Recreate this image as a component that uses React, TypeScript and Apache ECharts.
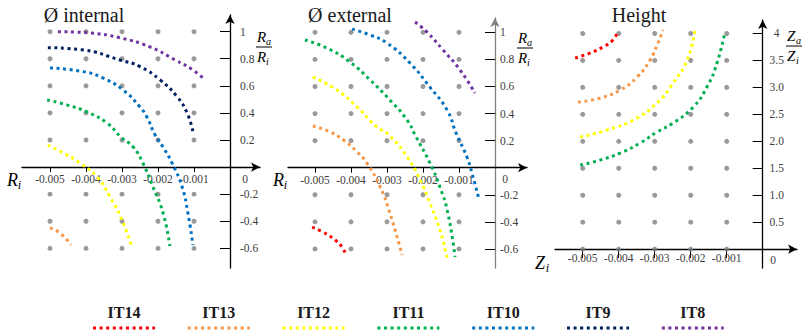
import React, { useEffect, useRef } from 'react';
import * as echarts from 'echarts';

const NAMES = ['IT14', 'IT13', 'IT12', 'IT11', 'IT10', 'IT9', 'IT8'];
const COLORS = ['#ff0000', '#f79646', '#ffff00', '#00b050', '#0070c0', '#002060', '#7030a0'];
const PANEL_TITLES = ['Ø internal', 'Ø external', 'Height'];

const X_TICKS = [-0.005, -0.004, -0.003, -0.002, -0.001];
const R_TICKS = [1, 0.8, 0.6, 0.4, 0.2, -0.2, -0.4, -0.6];
const Z_TICKS = [4, 3.5, 3, 2.5, 2, 1.5, 1, 0.5];
const R_DOT_ROWS = [1, 0.8, 0.6, 0.4, 0.2, -0.2, -0.4, -0.6];
const Z_DOT_ROWS = [4, 3.5, 3, 2.5, 2, 1.5, 1, 0.5, 0];

type P = [number, number][];

// Ø internal
const INT_IT13: P = [[-0.005, -0.45], [-0.00472, -0.487], [-0.00442, -0.575]];
const INT_IT12: P = [[-0.00506, 0.163], [-0.00453, 0.089], [-0.00417, 0.03], [-0.00369, -0.073], [-0.00333, -0.221], [-0.003, -0.391], [-0.00272, -0.597]];
const INT_IT11: P = [[-0.00508, 0.496], [-0.00453, 0.459], [-0.00397, 0.407], [-0.00342, 0.326], [-0.00303, 0.222], [-0.00269, 0.148], [-0.00242, 0.03], [-0.00214, -0.147], [-0.00186, -0.339], [-0.00167, -0.583]];
const INT_IT10: P = [[-0.005, 0.732], [-0.00408, 0.705], [-0.00353, 0.658], [-0.00297, 0.569], [-0.0025, 0.444], [-0.00231, 0.37], [-0.00208, 0.237], [-0.00186, 0.148], [-0.00161, 0.03], [-0.00133, -0.147], [-0.00117, -0.339], [-0.00103, -0.575]];
const INT_IT9: P = [[-0.00506, 0.882], [-0.00408, 0.865], [-0.00306, 0.791], [-0.0025, 0.742], [-0.00194, 0.643], [-0.00147, 0.52], [-0.00119, 0.399], [-0.00103, 0.261]];
const INT_IT8: P = [[-0.00478, 1.0], [-0.00389, 0.99], [-0.00306, 0.955], [-0.00222, 0.887], [-0.00153, 0.792], [-0.00103, 0.717], [-0.00069, 0.643]];

// Ø external
const EXT_IT14: P = [[-0.00508, -0.439], [-0.00478, -0.475], [-0.00444, -0.534], [-0.00425, -0.586], [-0.00414, -0.645]];
const EXT_IT13: P = [[-0.00506, 0.308], [-0.00458, 0.264], [-0.00417, 0.197], [-0.00383, 0.116], [-0.00356, 0.035], [-0.00319, -0.142], [-0.00292, -0.335], [-0.00258, -0.645]];
const EXT_IT12: P = [[-0.00506, 0.67], [-0.00439, 0.574], [-0.00383, 0.448], [-0.00328, 0.301], [-0.00294, 0.241], [-0.00244, 0.079], [-0.00208, -0.091], [-0.00181, -0.261], [-0.00153, -0.46], [-0.00133, -0.667]];
const EXT_IT11: P = [[-0.00528, 0.943], [-0.00467, 0.884], [-0.00403, 0.781], [-0.00347, 0.648], [-0.00292, 0.5], [-0.00244, 0.352], [-0.00222, 0.241], [-0.00181, 0.035], [-0.00153, -0.142], [-0.00131, -0.335], [-0.00111, -0.66]];
const EXT_IT10: P = [[-0.00397, 1.024], [-0.00347, 0.98], [-0.003, 0.921], [-0.00236, 0.773], [-0.00181, 0.596], [-0.00133, 0.426], [-0.00108, 0.256], [-0.00078, 0.079], [-0.00064, -0.039], [-0.00044, -0.239]];
const EXT_IT8: P = [[-0.00222, 1.076], [-0.00189, 1.002], [-0.00144, 0.869], [-0.00097, 0.722], [-0.00056, 0.552]];

// Height
const H_IT14: P = [[-0.00521, 3.544], [-0.0048, 3.636], [-0.00444, 3.748], [-0.00416, 3.878], [-0.00402, 4.045]];
const H_IT13: P = [[-0.00513, 2.727], [-0.00452, 2.801], [-0.00396, 2.95], [-0.00349, 3.191], [-0.00313, 3.506], [-0.00291, 3.822], [-0.00277, 4.063]];
const H_IT12: P = [[-0.00507, 2.078], [-0.00433, 2.208], [-0.0036, 2.393], [-0.00294, 2.709], [-0.00249, 3.08], [-0.0021, 3.506], [-0.00188, 4.063]];
const H_IT11: P = [[-0.00507, 1.558], [-0.00452, 1.651], [-0.00396, 1.781], [-0.00341, 1.967], [-0.00294, 2.171], [-0.00249, 2.338], [-0.00193, 2.635], [-0.00155, 3.006], [-0.00127, 3.451], [-0.00105, 4.026]];

const PANEL_CURVES: Record<string, P>[] = [
  { IT13: INT_IT13, IT12: INT_IT12, IT11: INT_IT11, IT10: INT_IT10, IT9: INT_IT9, IT8: INT_IT8 },
  { IT14: EXT_IT14, IT13: EXT_IT13, IT12: EXT_IT12, IT11: EXT_IT11, IT10: EXT_IT10, IT8: EXT_IT8 },
  { IT14: H_IT14, IT13: H_IT13, IT12: H_IT12, IT11: H_IT11 },
];

const FONT = "'Liberation Serif', 'DejaVu Serif', serif";

function subName(x: number, y: number, main: string, sub: string, size: number): any[] {
  return [
    { type: 'text', x, y, style: { text: main, fontFamily: FONT, fontStyle: 'italic', fontSize: size, fill: '#000', align: 'left', verticalAlign: 'middle' } },
    { type: 'text', x: x + size * 0.6, y: y + size * 0.3, style: { text: sub, fontFamily: FONT, fontStyle: 'italic', fontSize: size * 0.68, fill: '#000', align: 'left', verticalAlign: 'middle' } },
  ];
}

function frac(x: number, y: number, main: string, subTop: string, subBot: string, w: number): any[] {
  return [
    ...subName(x + 1, y - 10, main, subTop, 15),
    { type: 'line', shape: { x1: x, y1: y, x2: x + w, y2: y }, style: { stroke: '#000', lineWidth: 1 } },
    ...subName(x + 1, y + 10, main, subBot, 15),
  ];
}

export default function App() {
  const ref = useRef<HTMLDivElement>(null);
  useEffect(() => {
    if (!ref.current) return;
    const chart = echarts.init(ref.current, undefined, { renderer: 'svg' });

    const grids = [
      { left: 22, top: 15, width: 238, height: 253 },
      { left: 288, top: 18, width: 239, height: 250 },
      { left: 555, top: 20, width: 242, height: 248 },
    ];
    const xRanges = [[-0.005778, 0.000833], [-0.00575, 0.000889], [-0.00577, 0.000953]];
    const yRanges = [[-0.745, 1.123], [-0.741, 1.106], [-0.35, 4.25]];
    const yAxisColors = ['#000', '#808080', '#000'];
    const yLabelMargins = [10, 5, 14];

    const labelStyle = { fontFamily: FONT, fontSize: 11.5, color: '#404040' };

    const xAxis = xRanges.map((r, i) => {
      const yr = yRanges[i];
      const off = -grids[i].height * (0 - yr[0]) / (yr[1] - yr[0]);
      return {
        type: 'value', gridIndex: i, min: r[0], max: r[1], position: 'bottom', offset: off,
        axisLine: { show: true, onZero: false, symbol: ['none', 'arrow'], symbolSize: [7, 9], lineStyle: { color: '#000', width: 1.3 } },
        axisTick: { show: true, customValues: X_TICKS, length: i === 2 ? 9 : 5, lineStyle: { color: '#000', width: 1 } },
        axisLabel: { show: true, customValues: X_TICKS, formatter: (v: number) => v.toFixed(3), margin: i === 2 ? 3 : 6, ...labelStyle },
        splitLine: { show: false },
      };
    });

    const yAxis = yRanges.map((r, i) => {
      const xr = xRanges[i];
      const off = -grids[i].width * (0 - xr[0]) / (xr[1] - xr[0]);
      return {
        type: 'value', gridIndex: i, min: r[0], max: r[1], position: 'left', offset: off,
        axisLine: { show: true, onZero: false, symbol: ['none', 'arrow'], symbolSize: [7, 9], lineStyle: { color: yAxisColors[i], width: 1.3 } },
        axisTick: { show: true, customValues: i === 2 ? Z_TICKS : R_TICKS, length: 10, lineStyle: { color: '#000', width: 1 } },
        axisLabel: {
          show: true, inside: true, customValues: i === 2 ? Z_TICKS : R_TICKS,
          margin: yLabelMargins[i], align: i === 2 ? 'center' : 'left',
          padding: [7, 0, 0, 0],
          formatter: (v: number) => (i === 2 ? (v === 4 ? '4' : v.toFixed(1)) : String(v)),
          ...labelStyle,
        },
        splitLine: { show: false },
      };
    });

    const series: any[] = [];
    [R_DOT_ROWS, R_DOT_ROWS, Z_DOT_ROWS].forEach((rows, i) => {
      const pts: number[][] = [];
      X_TICKS.forEach((x) => rows.forEach((y) => pts.push([x, y])));
      series.push({
        type: 'scatter', xAxisIndex: i, yAxisIndex: i, data: pts, symbolSize: 5,
        itemStyle: { color: '#808080' }, silent: true, z: 1,
      });
    });
    PANEL_CURVES.forEach((curves, i) => {
      NAMES.forEach((name, k) => {
        const d = curves[name];
        if (!d) return;
        series.push({
          type: 'line', name, xAxisIndex: i, yAxisIndex: i, data: d, smooth: 0.5,
          showSymbol: false, symbol: 'none', z: 3,
          lineStyle: { color: COLORS[k], width: 3, type: [3, 3.6], cap: 'butt' },
        });
      });
    });

    const graphic: any[] = [];
    const titleX = [84, 350, 639];
    PANEL_TITLES.forEach((t, i) => {
      graphic.push({ type: 'text', x: titleX[i], y: 15, style: { text: t, fontFamily: FONT, fontWeight: 'normal', fontSize: 20, fill: '#1a1a1a', align: 'center', verticalAlign: 'middle' } });
    });
    // zero labels
    [[245, 179], [505, 179], [773, 260]].forEach(([x, y]) => {
      graphic.push({ type: 'text', x, y, style: { text: '0', fontFamily: FONT, fontSize: 11.5, fill: '#404040', align: 'center', verticalAlign: 'middle' } });
    });
    // axis names
    graphic.push(...subName(7, 180, 'R', 'i', 18));
    graphic.push(...subName(273, 180, 'R', 'i', 18));
    graphic.push(...subName(535, 263, 'Z', 'i', 18));
    graphic.push(...frac(256, 47, 'R', 'a', 'i', 16));
    graphic.push(...frac(517, 48, 'R', 'a', 'i', 16));
    graphic.push(...frac(786, 46, 'Z', 'a', 'i', 16));
    // legend
    NAMES.forEach((n, k) => {
      const cx = 124 + 94.8 * k;
      graphic.push({ type: 'text', x: cx, y: 312, style: { text: n, fontFamily: FONT, fontWeight: 'bold', fontSize: 16, fill: '#1a1a1a', align: 'center', verticalAlign: 'middle' } });
      graphic.push({ type: 'line', shape: { x1: cx - 31, y1: 328, x2: cx + 31, y2: 328 }, style: { stroke: COLORS[k], lineWidth: 3, lineDash: [3, 3.6] } });
    });

    chart.setOption({
      animation: false,
      backgroundColor: '#ffffff',
      grid: grids.map((g) => ({ ...g, containLabel: false, outerBoundsMode: 'none' })),
      xAxis, yAxis, series, graphic,
    });
    return () => chart.dispose();
  }, []);
  return <div ref={ref} style={{ position: 'fixed', left: 0, top: 0, width: 804, height: 335 }} />;
}
